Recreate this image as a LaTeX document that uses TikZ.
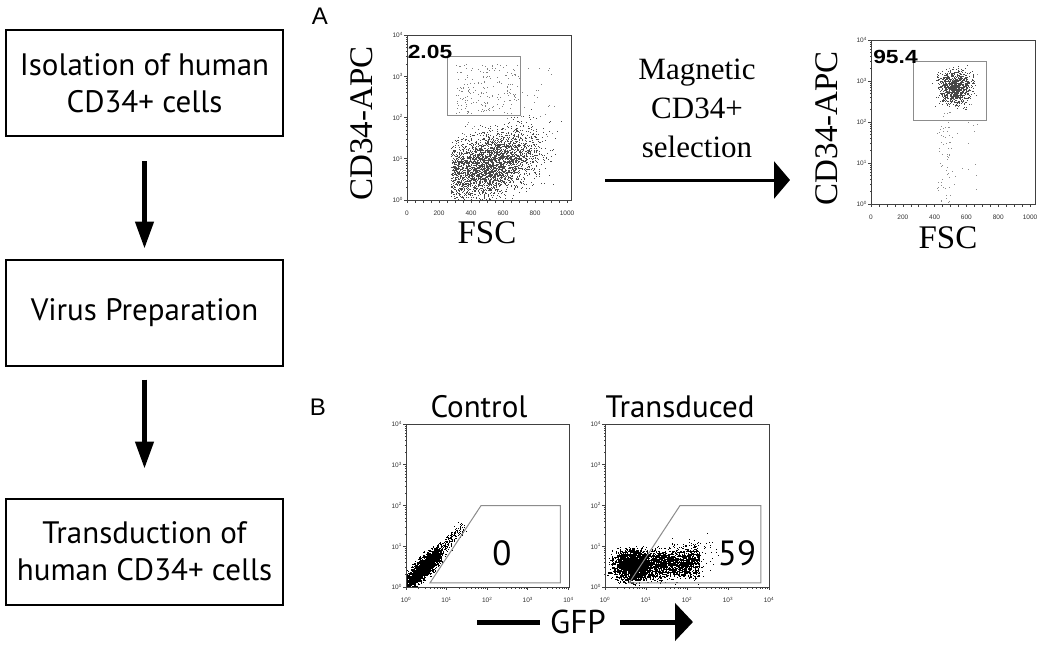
\documentclass[tikz,border=0pt]{standalone}
\usepackage{fontspec}
\setmainfont{Liberation Serif}
\newfontfamily\mysans{PT Sans}
\newfontfamily\arl{Liberation Sans}
\usetikzlibrary{arrows.meta}
\begin{document}
\begin{tikzpicture}[x=1pt,y=-1pt,
  stepbox/.style={draw,line width=2pt,minimum width=277pt,minimum height=106pt,align=center,
    font=\mysans\fontsize{31}{37}\selectfont},
  flow/.style={line width=4.5pt,-{Triangle[width=18pt,length=27pt]}},
  axframe/.style={draw=black!75,line width=0.8pt},
  gate/.style={draw=black!45,line width=1pt},
  ticklab/.style={font=\arl\fontsize{6.5}{7}\selectfont,inner sep=0pt,text=black!80},
  serifbig/.style={font=\rmfamily\fontsize{33}{39}\selectfont,inner sep=0pt,align=center},
  sansmid/.style={font=\mysans\fontsize{31}{36}\selectfont,inner sep=0pt},
  pct/.style={font=\arl\bfseries\fontsize{19}{22}\selectfont,inner sep=0pt},
  panel/.style={font=\arl\fontsize{24}{28}\selectfont,inner sep=0pt},
  bignum/.style={font=\mysans\fontsize{35}{40}\selectfont,inner sep=0pt},
]
\useasboundingbox[fill=white] (0,0) rectangle (1050,648);

% ---------- left flow chart ----------
\node[stepbox] (b1) at (144.5,83) {Isolation of human\\CD34+ cells};
\node[stepbox] (b2) at (144.5,312.5) {Virus Preparation};
\node[stepbox] (b3) at (144.5,551.5) {Transduction of\\human CD34+ cells};
\draw[flow,shorten <=24pt,shorten >=10pt] (b1) -- (b2);
\draw[flow,shorten <=13pt,shorten >=29pt] (b2) -- (b3);

% ---------- panel labels ----------
\node[panel] (lA) at (320,16) {A};
\node[panel] (lB) at (318,407) {B};

\pgfmathsetseed{7}

% ---------- Plot A left ----------
\begin{scope}[fill=black!72]
\clip (407,35) rectangle (571,200);
\foreach \i in {1,...,3200}{
  \pgfmathsetmacro\fx{520+150*(rand+rand+rand)}
  \pgfmathsetmacro\fx{\fx<272 ? 272+110*rnd : \fx}
  \pgfmathsetmacro\ly{0.6+0.0011*(\fx-272)+0.38*(rand+rand+rand)}
  \fill ({407+0.16*\fx},{200-41.25*\ly}) rectangle ++(1,1);
}
\end{scope}
\begin{scope}[fill=black!50]
\clip (407,35) rectangle (571,200);
\foreach \i in {1,...,170}{
  \pgfmathsetmacro\fx{300+420*rnd}
  \pgfmathsetmacro\ly{2.1+1.2*rnd}
  \fill ({407+0.16*\fx},{200-41.25*\ly}) rectangle ++(1,1);
}
\foreach \i in {1,...,60}{
  \pgfmathsetmacro\fx{300+620*rnd}
  \pgfmathsetmacro\ly{1.5+1.8*rnd}
  \fill ({407+0.16*\fx},{200-41.25*\ly}) rectangle ++(1,1);
}
\end{scope}
\draw[axframe] (407,35) rectangle (571,200);
\draw[gate] (447,56) rectangle (520,115);
\foreach \k in {0,...,4}{
  \node[ticklab,anchor=east] at (403,{200-41.25*\k}) {10\textsuperscript{\k}};
  \draw[axframe] (407,{200-41.25*\k}) -- ++(-3,0);
}
\foreach \k in {0,...,3}{\foreach \m in {2,...,9}{
  \draw[black!75,line width=0.5pt] (407,{200-41.25*(\k+log10(\m))}) -- ++(-1.5,0);}}
\foreach \v in {0,200,...,1000}{\node[ticklab] at ({407+0.16*\v},213) {\v};}
\foreach \v in {0,50,...,1000}{\draw[black!75,line width=0.5pt] ({407+0.16*\v},200) -- ++(0,2.5);}
\node[pct] (p1) at (430,52) {\scalebox{1.2}[1]{2.05}};
\node[serifbig,rotate=90] (yA1) at (362,123.5) {CD34-APC};
\node[serifbig] (xA1) at (487,233) {FSC};

% ---------- middle arrow ----------
\node[serifbig,font=\rmfamily\fontsize{31}{39}\selectfont] (mag) at (697,108) {Magnetic\\CD34+\\selection};
\coordinate (m1) at (605,180);
\coordinate (m2) at (790,180);
\draw[line width=3pt,-{Triangle[width=37pt,length=16pt]}] (m1) -- (m2);

% ---------- Plot A right ----------
\begin{scope}[fill=black!72]
\clip (871,40) rectangle (1035,204);
\foreach \i in {1,...,1000}{
  \pgfmathsetmacro\fx{525+50*(rand+rand+rand)}
  \pgfmathsetmacro\ly{2.85+0.2*(rand+rand+rand)}
  \fill ({871+0.159*\fx},{204-41*\ly}) rectangle ++(1,1);
}
\end{scope}
\begin{scope}[fill=black!45]
\clip (871,40) rectangle (1035,204);
\foreach \i in {1,...,60}{
  \pgfmathsetmacro\fx{465+22*(rand+rand+rand)}
  \pgfmathsetmacro\ly{2.3*rnd}
  \fill ({871+0.159*\fx},{204-41*\ly}) rectangle ++(1,1);
}
\foreach \i in {1,...,25}{
  \pgfmathsetmacro\fx{420+250*rnd}
  \pgfmathsetmacro\ly{0.3+3.4*rnd}
  \fill ({871+0.159*\fx},{204-41*\ly}) rectangle ++(1,1);
}
\end{scope}
\draw[axframe] (871,40) rectangle (1035,204);
\draw[gate] (913,61) rectangle (986,120);
\foreach \k in {0,...,4}{
  \node[ticklab,anchor=east] at (867,{204-41*\k}) {10\textsuperscript{\k}};
  \draw[axframe] (871,{204-41*\k}) -- ++(-3,0);
}
\foreach \k in {0,...,3}{\foreach \m in {2,...,9}{
  \draw[black!75,line width=0.5pt] (871,{204-41*(\k+log10(\m))}) -- ++(-1.5,0);}}
\foreach \v in {0,200,...,1000}{\node[ticklab] at ({871+0.159*\v},217) {\v};}
\foreach \v in {0,50,...,1000}{\draw[black!75,line width=0.5pt] ({871+0.159*\v},204) -- ++(0,2.5);}
\node[pct] (p2) at (895.5,57) {\scalebox{1.2}[1]{95.4}};
\node[serifbig,rotate=90] (yA2) at (827,128) {CD34-APC};
\node[serifbig] (xA2) at (948,238) {FSC};

% ---------- Plot B left (Control) ----------
\begin{scope}[fill=black]
\clip (406,424) rectangle (569,587);
\foreach \i in {1,...,2000}{
  \pgfmathsetmacro\t{0.42+0.2*(rand+rand+rand)}
  \pgfmathsetmacro\lx{\t+0.09*(rand+rand+rand)}
  \pgfmathsetmacro\ly{\t+0.06+0.09*(rand+rand+rand)}
  \fill ({406+40.6*\lx},{587-40.75*\ly}) rectangle ++(1.2,1.2);
}
\foreach \i in {1,...,200}{
  \pgfmathsetmacro\t{0.6+0.8*rnd}
  \pgfmathsetmacro\lx{\t+0.07*(rand+rand+rand)}
  \pgfmathsetmacro\ly{\t+0.1+0.07*(rand+rand+rand)}
  \fill ({406+40.6*\lx},{587-40.75*\ly}) rectangle ++(1,1);
}
\end{scope}
\draw[axframe] (406,424) rectangle (569,587);
\draw[gate] ({406+40.6*0.59},{587-40.75*0.1}) -- ({406+40.6*1.85},{587-40.75*2}) -- ({406+40.6*3.8},{587-40.75*2}) -- ({406+40.6*3.8},{587-40.75*0.1}) -- cycle;
\foreach \k in {0,...,4}{
  \node[ticklab,anchor=east] at (402,{587-40.75*\k}) {10\textsuperscript{\k}};
  \node[ticklab] at ({406+40.6*\k},600) {10\textsuperscript{\k}};
  \draw[axframe] (406,{587-40.75*\k}) -- ++(-3,0);
  \draw[axframe] ({406+40.6*\k},587) -- ++(0,3);
}
\foreach \k in {0,...,3}{\foreach \m in {2,...,9}{
  \draw[black!75,line width=0.5pt] (406,{587-40.75*(\k+log10(\m))}) -- ++(-1.5,0);
  \draw[black!75,line width=0.5pt] ({406+40.6*(\k+log10(\m))},587) -- ++(0,1.5);}}
\node[bignum] (n0) at (502,553) {0};
\node[sansmid] (tC) at (479,407) {Control};

% ---------- Plot B right (Transduced) ----------
\begin{scope}[fill=black]
\clip (605,424) rectangle (769,587);
\foreach \i in {1,...,1500}{
  \pgfmathsetmacro\lx{0.6+0.2*(rand+rand+rand)}
  \pgfmathsetmacro\ly{0.55+0.17*(rand+rand+rand)}
  \fill ({605+41*\lx},{587-40.75*\ly}) rectangle ++(1.2,1.2);
}
\foreach \i in {1,...,2300}{
  \pgfmathsetmacro\lx{0.6+1.7*rnd^1.4}
  \pgfmathsetmacro\ly{0.5+0.18*(rand+rand+rand)+0.1*(\lx-0.6)}
  \fill ({605+41*\lx},{587-40.75*\ly}) rectangle ++(1.15,1.15);
}
\foreach \i in {1,...,150}{
  \pgfmathsetmacro\lx{1.2+1.6*rnd}
  \pgfmathsetmacro\ly{0.5+0.25*(rand+rand+rand)+0.2*(\lx-1.2)}
  \fill ({605+41*\lx},{587-40.75*\ly}) rectangle ++(1,1);
}
\end{scope}
\draw[axframe] (605,424) rectangle (769,587);
\draw[gate] ({605+41*0.59},{587-40.75*0.1}) -- ({605+41*1.83},{587-40.75*2}) -- ({605+41*3.8},{587-40.75*2}) -- ({605+41*3.8},{587-40.75*0.1}) -- cycle;
\foreach \k in {0,...,4}{
  \node[ticklab,anchor=east] at (601,{587-40.75*\k}) {10\textsuperscript{\k}};
  \node[ticklab] at ({605+41*\k},600) {10\textsuperscript{\k}};
  \draw[axframe] (605,{587-40.75*\k}) -- ++(-3,0);
  \draw[axframe] ({605+41*\k},587) -- ++(0,3);
}
\foreach \k in {0,...,3}{\foreach \m in {2,...,9}{
  \draw[black!75,line width=0.5pt] (605,{587-40.75*(\k+log10(\m))}) -- ++(-1.5,0);
  \draw[black!75,line width=0.5pt] ({605+41*(\k+log10(\m))},587) -- ++(0,1.5);}}
\node[bignum] (n59) at (737,553) {59};
\node[sansmid] (tT) at (680,407) {Transduced};

% ---------- GFP axis ----------
\node[font=\mysans\fontsize{33}{38}\selectfont,inner sep=0pt] (gfp) at (578,622) {GFP};
\coordinate (g1) at (477,622);
\coordinate (g2) at (540,622);
\coordinate (g3) at (620,622);
\coordinate (g4) at (693,622);
\draw[line width=5pt] (g1) -- (g2);
\draw[line width=5pt,-{Triangle[width=37pt,length=18pt]}] (g3) -- (g4);
\end{tikzpicture}
\end{document}
